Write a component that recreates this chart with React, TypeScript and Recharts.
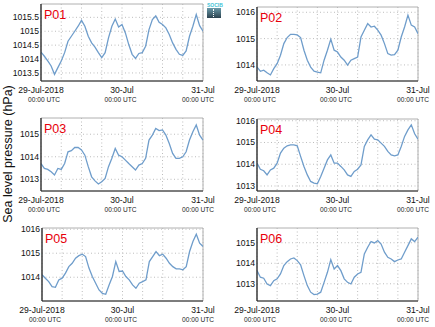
import { LineChart, Line, XAxis, YAxis, CartesianGrid, ReferenceArea, ReferenceLine } from 'recharts';

// hours since 29-Jul-2018 00:00 UTC
const hours = [0, 1, 2, 3, 4, 5, 6, 7, 8, 9, 10, 11, 12, 13, 14, 15, 16, 17, 18, 19, 20, 21, 22, 23, 24,
  25, 26, 27, 28, 29, 30, 31, 32, 33, 34, 35, 36, 37, 38, 39, 40, 41, 42, 43, 44, 45, 46, 47, 48];
const gridHours = [0, 6, 12, 18, 24, 30, 36, 42, 48];
const dateHours = [0, 24, 48];
const dateLabels = ['29-Jul-2018', '30-Jul', '31-Jul'];

const p01 = [1014.25, 1014.1, 1013.93, 1013.75, 1013.45, 1013.69, 1013.93, 1014.23, 1014.64, 1014.82, 1015.0, 1015.18,
  1015.39, 1015.18, 1014.82, 1014.58, 1014.43, 1014.23, 1014.05, 1014.23, 1014.76, 1015.18, 1015.44, 1015.15, 1015.24,
  1014.94, 1014.52, 1014.17, 1014.02, 1014.2, 1014.23, 1014.46, 1015.06, 1015.42, 1015.55, 1015.32, 1015.24, 1015.12,
  1014.88, 1014.58, 1014.35, 1014.17, 1014.13, 1014.29, 1014.82, 1015.18, 1015.6, 1015.2, 1015.0];
const p02 = [1013.92, 1013.76, 1013.8, 1013.7, 1013.62, 1013.86, 1014.05, 1014.37, 1014.81, 1015.04, 1015.16, 1015.16,
  1015.14, 1015.04, 1014.56, 1014.18, 1013.92, 1013.76, 1013.73, 1013.7, 1014.18, 1014.56, 1014.98, 1014.56, 1014.49,
  1014.3, 1014.18, 1013.99, 1014.18, 1014.24, 1014.3, 1015.06, 1015.32, 1015.57, 1015.44, 1015.47, 1015.32, 1015.13,
  1014.81, 1014.43, 1014.37, 1014.39, 1014.56, 1015.06, 1015.44, 1015.89, 1015.51, 1015.44, 1015.19];
const p03 = [1013.7, 1013.48, 1013.44, 1013.33, 1013.19, 1013.48, 1013.44, 1013.7, 1014.22, 1014.27, 1014.41, 1014.41,
  1014.3, 1014.07, 1013.56, 1013.11, 1012.93, 1012.79, 1012.89, 1013.04, 1013.56, 1013.93, 1014.37, 1014.07, 1014.0,
  1013.85, 1013.7, 1013.56, 1013.41, 1013.63, 1013.7, 1013.93, 1014.74, 1014.96, 1015.26, 1015.16, 1015.19, 1014.96,
  1014.59, 1014.15, 1013.93, 1013.93, 1014.0, 1014.22, 1014.74, 1015.11, 1015.41, 1014.96, 1014.74];
const p04 = [1014.05, 1013.77, 1013.7, 1013.51, 1013.74, 1013.82, 1014.05, 1014.51, 1014.74, 1014.85, 1014.89, 1014.89,
  1014.85, 1014.36, 1013.9, 1013.51, 1013.21, 1013.13, 1013.1, 1013.44, 1013.82, 1014.2, 1014.43, 1014.05, 1014.05,
  1013.9, 1013.74, 1013.51, 1013.44, 1013.67, 1013.77, 1013.97, 1014.82, 1015.12, 1015.35, 1015.15, 1015.12, 1014.97,
  1014.82, 1014.59, 1014.43, 1014.39, 1014.43, 1014.82, 1015.28, 1015.58, 1015.81, 1015.4, 1015.15];
const p05 = [1014.1, 1013.96, 1013.82, 1013.61, 1013.58, 1013.89, 1013.96, 1014.17, 1014.44, 1014.58, 1014.79, 1014.9,
  1014.96, 1014.86, 1014.38, 1014.03, 1013.75, 1013.47, 1013.33, 1013.29, 1013.68, 1014.03, 1014.65, 1014.24, 1014.26,
  1014.03, 1013.89, 1013.68, 1013.54, 1013.75, 1013.82, 1013.89, 1014.65, 1014.86, 1015.07, 1014.9, 1014.96, 1014.79,
  1014.58, 1014.44, 1014.35, 1014.35, 1014.31, 1014.44, 1015.07, 1015.49, 1015.79, 1015.42, 1015.28];
const p06 = [1013.64, 1013.32, 1013.27, 1012.99, 1012.91, 1013.15, 1013.24, 1013.48, 1013.89, 1014.08, 1014.21, 1014.26,
  1014.13, 1013.92, 1013.4, 1012.91, 1012.59, 1012.47, 1012.5, 1012.59, 1013.07, 1013.56, 1014.18, 1013.72, 1013.89,
  1013.64, 1013.24, 1013.07, 1012.99, 1013.32, 1013.48, 1013.56, 1014.46, 1014.78, 1015.06, 1014.99, 1015.11, 1014.94,
  1014.54, 1014.29, 1014.21, 1014.08, 1014.16, 1014.21, 1014.54, 1014.86, 1015.19, 1015.06, 1015.27];

const stations = ['P01', 'P02', 'P03', 'P04', 'P05', 'P06'];
const series = [p01, p02, p03, p04, p05, p06];
const yDomains = [
  [1013.21, 1015.98], [1013.39, 1016.2], [1012.48, 1015.72],
  [1012.77, 1016.08], [1013.01, 1016.05], [1012.16, 1015.72],
];
const yTicks = [
  [1013.5, 1014, 1014.5, 1015, 1015.5], [1014, 1015, 1016], [1013, 1014, 1015],
  [1013, 1014, 1015, 1016], [1014, 1015, 1016], [1013, 1014, 1015],
];

// plot frame of each panel: x, y, width, height
const frames = [
  [41, 4, 162, 77], [257, 7, 161, 74],
  [41, 118, 162, 73], [257, 119, 161, 72],
  [42, 228, 161, 73], [257, 228, 161, 73],
];

const YW = 40;
const MT = 6;
const MR = 16;
const XH = 26;
const FONT = '"Liberation Sans", Arial, sans-serif';
const utcShift = [3, -1.5, -5];

const DateTick = (props: any) => {
  const { x, y, payload } = props;
  const i = dateHours.indexOf(payload.value);
  if (i < 0) return null;
  return (
    <g>
      <text x={x} y={y + 12} textAnchor="middle" fontSize={8.6} fill="#111" fontFamily={FONT}>
        {dateLabels[i]}
      </text>
      <text x={x + utcShift[i]} y={y + 21} textAnchor="middle" fontSize={6.6} fill="#222" fontFamily={FONT}>
        00:00 UTC
      </text>
    </g>
  );
};

// y tick label drawn at a reference line, left of the plot frame
const valueLabel = (v: number) => (props: any) => {
  const vb = props.viewBox || {};
  return (
    <text x={vb.x - 2} y={vb.y + 3} textAnchor="end" fontSize={8.6} fill="#111" fontFamily={FONT}>
      {String(v)}
    </text>
  );
};

const Panel = ({ idx }: { idx: number }) => {
  const [fx, fy, fw, fh] = frames[idx];
  const data = hours.map((t, i) => ({ t, v: series[idx][i] }));
  const [lo, hi] = yDomains[idx];
  const levels = yTicks[idx].slice();
  return (
    <div style={{ position: 'absolute', left: fx - YW, top: fy - MT }}>
      <LineChart width={YW + fw + MR} height={MT + fh + XH} data={data}
        margin={{ top: MT, right: MR, bottom: 0, left: 0 }}>
        <CartesianGrid stroke="#bdbdbd" strokeDasharray="1 2.5" horizontal={false} verticalValues={gridHours.slice()} />
        {levels.map((v) => (
          <ReferenceLine key={'g' + v} y={v} stroke="#bdbdbd" strokeDasharray="1 2.5" label={valueLabel(v)} />
        ))}
        <ReferenceArea x1={0} x2={48} y1={lo} y2={hi} fill="none" stroke="#b0b0b0" strokeWidth={1} />
        <XAxis dataKey="t" type="number" domain={[0, 48]} ticks={gridHours.slice()} interval={0}
          allowDataOverflow height={XH} tickSize={0} tickMargin={0} tickLine={false}
          axisLine={{ stroke: '#222', strokeWidth: 1.2 }} tick={<DateTick />} />
        <YAxis type="number" domain={[lo, hi]} allowDataOverflow width={YW}
          tick={false} tickLine={false} axisLine={{ stroke: '#222', strokeWidth: 1.2 }} />
        <Line dataKey="v" type="linear" stroke="#6f9dcb" strokeWidth={1.3} dot={false} isAnimationActive={false} />
      </LineChart>
      <div style={{ position: 'absolute', left: YW + 3, top: MT + 4, color: '#e8000b', fontSize: 12.5, fontFamily: FONT, lineHeight: '14px' }}>
        {stations[idx]}
      </div>
    </div>
  );
};

export default function App() {
  return (
    <div style={{ position: 'absolute', left: 0, top: 0, width: 435, height: 327, background: '#fff', overflow: 'hidden' }}>
      {stations.map((s, i) => <Panel key={s} idx={i} />)}
      <svg width={20} height={327} style={{ position: 'absolute', left: 0, top: 0 }}>
        <text x={12} y={154} transform="rotate(-90 12 154)" textAnchor="middle" fontSize={12.5} fill="#111" fontFamily={FONT}>
          Sea level pressure (hPa)
        </text>
      </svg>
      <div style={{ position: 'absolute', left: 207, top: 2, width: 14 }}>
        <div style={{ fontSize: 5, lineHeight: '6px', color: '#45c3d6', fontFamily: FONT, fontWeight: 'bold', textAlign: 'center' }}>SOCIB</div>
        <div style={{ height: 10, background: 'linear-gradient(#6a99a8, #2c4350)', position: 'relative' }}>
          <div style={{ position: 'absolute', left: 6, top: 1, height: 8, borderLeft: '1px dotted #fff' }} />
        </div>
      </div>
    </div>
  );
}
